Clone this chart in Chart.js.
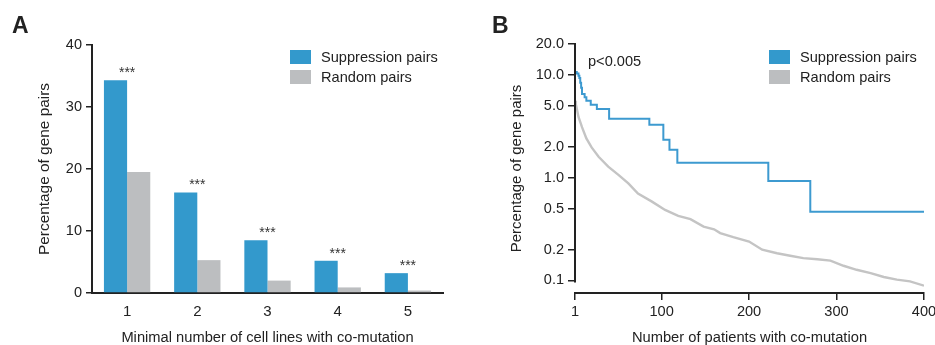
<!DOCTYPE html>
<html>
<head>
<meta charset="utf-8">
<script src="https://cdn.jsdelivr.net/npm/chart.js@4.4.0/dist/chart.umd.min.js"></script>
<style>
  html, body { margin: 0; padding: 0; background: #fff; overflow: hidden; }
  body { width: 935px; height: 345px; position: relative; color: #222;
         font-family: 'Liberation Sans', Arial, sans-serif; }
  canvas { position: absolute; top: 0; }
  #chartA { left: 0; }
  #chartB { left: 467px; }
  .panel { position: absolute; font-weight: bold; font-size: 23px; line-height: 1; }
  .legend { position: absolute; font-size: 14.6px; }
  .legend div { position: relative; height: 20px; line-height: 14px; padding-left: 31px; white-space: nowrap; }
  .legend span { position: absolute; left: 0; top: 0; width: 21px; height: 14px; }
</style>
</head>
<body>
<canvas id="chartA" width="467" height="345"></canvas>
<canvas id="chartB" width="480" height="345"></canvas>

<div class="panel" style="left:12px; top:14px;">A</div>
<div class="panel" style="left:492px; top:14px;">B</div>

<div class="legend" style="left:290px; top:50px;">
  <div><span style="background:#3399cc"></span>Suppression pairs</div>
  <div><span style="background:#bcbec0"></span>Random pairs</div>
</div>
<div class="legend" style="left:769px; top:50px;">
  <div><span style="background:#3399cc"></span>Suppression pairs</div>
  <div><span style="background:#bcbec0"></span>Random pairs</div>
</div>

<script>
// Panel A: bars
const cellLineCounts = ['1', '2', '3', '4', '5'];
const suppressionPct = [34.3, 16.2, 8.5, 5.2, 3.2];
const randomPct = [19.5, 5.3, 2.0, 0.9, 0.4];
const significance = ['***', '***', '***', '***', '***'];
const barTicks = [0, 10, 20, 30, 40];

// Panel B: cumulative curves (patients, percentage)
const suppPatients = [1, 3, 5, 6, 7, 8, 9, 12, 14, 19, 26, 40, 86, 102, 109, 118, 222, 270, 400];
const suppCurvePct = [10.7, 10.3, 9.8, 9.35, 8.4, 7.5, 6.54, 6.07, 5.6, 5.14, 4.67, 3.74, 3.27, 2.34, 1.87, 1.40, 0.93, 0.467, 0.467];
const randPatients = [1, 2, 5, 9, 14, 20, 28, 39, 51, 62, 73, 89, 104, 119, 133, 148, 160, 167, 182, 200, 215, 232, 247, 262, 278, 293, 308, 323, 339, 354, 369, 384, 400];
const randCurvePct = [5.6, 5.2, 3.9, 3.1, 2.41, 1.97, 1.6, 1.28, 1.06, 0.88, 0.7, 0.585, 0.486, 0.425, 0.395, 0.334, 0.315, 0.289, 0.264, 0.239, 0.199, 0.184, 0.174, 0.165, 0.161, 0.156, 0.139, 0.127, 0.118, 0.108, 0.102, 0.098, 0.089];
const patientTicks = [1, 100, 200, 300, 400];
const logTicks = [0.1, 0.2, 0.5, 1, 2, 5, 10, 20];

const BLUE = '#3399cc';
const GREY = '#bcbec0';
const INK = '#222';
const FAMILY = "'Liberation Sans', Arial, sans-serif";

Chart.defaults.font.family = FAMILY;
Chart.defaults.color = INK;

// asterisks above each pair of bars
const starsPlugin = {
  id: 'stars',
  afterDatasetsDraw(chart) {
    const ctx = chart.ctx;
    const blue = chart.getDatasetMeta(0).data;
    const grey = chart.getDatasetMeta(1).data;
    ctx.save();
    ctx.fillStyle = '#333';
    ctx.font = '14px ' + FAMILY;
    ctx.textAlign = 'center';
    ctx.textBaseline = 'middle';
    blue.forEach((bar, i) => {
      ctx.fillText(significance[i], (bar.x + grey[i].x) / 2, bar.y - 7);
    });
    ctx.restore();
  }
};

// y axis line of panel B only runs over the tick range
const yAxisLine = {
  id: 'yAxisLine',
  afterDraw(chart) {
    const y = chart.scales.y;
    const x = chart.chartArea.left;
    const ctx = chart.ctx;
    ctx.save();
    ctx.strokeStyle = INK;
    ctx.lineWidth = 2;
    ctx.beginPath();
    ctx.moveTo(x, y.getPixelForValue(logTicks[logTicks.length - 1]) - 1);
    ctx.lineTo(x, y.getPixelForValue(logTicks[0]) + 2);
    ctx.stroke();
    ctx.restore();
  }
};

const pValueNote = {
  id: 'pValueNote',
  afterDraw(chart) {
    const ctx = chart.ctx;
    ctx.save();
    ctx.fillStyle = INK;
    ctx.font = '14.6px ' + FAMILY;
    ctx.textBaseline = 'middle';
    ctx.fillText('p<0.005', chart.chartArea.left + 13, 62);
    ctx.restore();
  }
};

new Chart(document.getElementById('chartA'), {
  type: 'bar',
  data: {
    labels: cellLineCounts,
    datasets: [
      { label: 'Suppression pairs', data: suppressionPct, backgroundColor: BLUE },
      { label: 'Random pairs', data: randomPct, backgroundColor: GREY }
    ]
  },
  options: {
    responsive: false,
    animation: false,
    layout: { padding: { left: 0, top: 45, right: 24, bottom: 0 } },
    datasets: { bar: { categoryPercentage: 0.66, barPercentage: 1.0 } },
    plugins: { legend: { display: false }, tooltip: { enabled: false } },
    scales: {
      x: {
        grid: { display: false, drawTicks: false },
        border: { color: INK, width: 2 },
        ticks: { font: { size: 15 }, color: INK, padding: 10 },
        title: { display: true, text: 'Minimal number of cell lines with co-mutation',
                 font: { size: 14.7 }, color: INK, padding: { top: 0, bottom: -2 } },
        afterFit: s => { s.height = 52; }
      },
      y: {
        min: 0, max: 40,
        afterBuildTicks: s => { s.ticks = barTicks.map(v => ({ value: v })); },
        grid: { drawOnChartArea: false, tickLength: 6, color: INK, lineWidth: 1.5 },
        border: { color: INK, width: 2 },
        ticks: { font: { size: 14.5 }, color: INK, padding: 4 },
        title: { display: true, text: 'Percentage of gene pairs',
                 font: { size: 15.4 }, color: INK, padding: { top: 36, bottom: 0 } },
        afterFit: s => { s.width = 92; }
      }
    }
  },
  plugins: [starsPlugin]
});

new Chart(document.getElementById('chartB'), {
  type: 'line',
  data: {
    datasets: [
      { label: 'Suppression pairs', data: suppPatients.map((n, i) => ({ x: n, y: suppCurvePct[i] })),
        borderColor: '#3d9ad0', borderWidth: 2, stepped: 'before', pointRadius: 0, fill: false },
      { label: 'Random pairs', data: randPatients.map((n, i) => ({ x: n, y: randCurvePct[i] })),
        borderColor: '#c4c4c4', borderWidth: 2.4, pointRadius: 0, tension: 0, fill: false }
    ]
  },
  options: {
    responsive: false,
    animation: false,
    layout: { padding: { left: 0, top: 44, right: 23, bottom: 0 } },
    plugins: { legend: { display: false }, tooltip: { enabled: false } },
    scales: {
      x: {
        type: 'linear', min: 1, max: 400, bounds: 'data',
        afterBuildTicks: s => { s.ticks = patientTicks.map(v => ({ value: v })); },
        grid: { drawOnChartArea: false, tickLength: 7, color: INK, lineWidth: 1.5 },
        border: { color: INK, width: 2 },
        ticks: { font: { size: 14.6 }, color: INK, padding: 3, maxRotation: 0 },
        title: { display: true, text: 'Number of patients with co-mutation',
                 font: { size: 14.7 }, color: INK, padding: { top: 0, bottom: -2 } },
        afterFit: s => { s.height = 52; }
      },
      y: {
        type: 'logarithmic', min: 0.0755, max: 20, bounds: 'data',
        afterBuildTicks: s => { s.ticks = logTicks.map(v => ({ value: v })); },
        grid: { drawOnChartArea: false, tickLength: 7, color: INK, lineWidth: 1.5 },
        border: { display: false },
        ticks: { font: { size: 14.5 }, color: INK, padding: 4, callback: v => Number(v).toFixed(1) },
        title: { display: true, text: 'Percentage of gene pairs',
                 font: { size: 15 }, color: INK, padding: { top: 40.5, bottom: 0 } },
        afterFit: s => { s.width = 108; }
      }
    }
  },
  plugins: [yAxisLine, pValueNote]
});
</script>
</body>
</html>
